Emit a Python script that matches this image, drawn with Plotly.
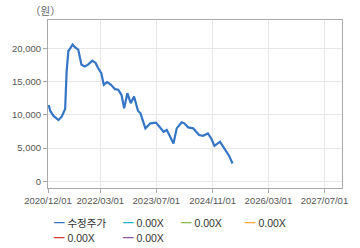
import plotly.graph_objects as go

dates = ["2020-12-07", "2020-12-21", "2021-01-18", "2021-03-02", "2021-03-30", "2021-04-29",
         "2021-05-12", "2021-05-27", "2021-07-03", "2021-07-23", "2021-08-21", "2021-09-18",
         "2021-10-17", "2021-11-14", "2021-12-21", "2022-01-19", "2022-02-08", "2022-02-22",
         "2022-03-09", "2022-03-31", "2022-04-29", "2022-06-02", "2022-07-06", "2022-08-04",
         "2022-09-01", "2022-09-24", "2022-10-22", "2022-11-20", "2022-12-19", "2023-01-22",
         "2023-02-13", "2023-03-28", "2023-05-10", "2023-06-28", "2023-08-04", "2023-09-02",
         "2023-09-30", "2023-10-29", "2023-11-27", "2023-12-25", "2024-02-06", "2024-02-29",
         "2024-04-03", "2024-05-16", "2024-06-13", "2024-07-06", "2024-08-10", "2024-09-21",
         "2024-10-20", "2024-11-17", "2024-12-16", "2025-01-05", "2025-02-02", "2025-03-03",
         "2025-03-25", "2025-04-23"]
prices = [11500, 10600, 9850, 9240, 9740, 10900,
          16560, 19600, 20600, 20200, 19850, 17575,
          17300, 17575, 18180, 17830, 17100, 16800,
          16300, 14540, 14950, 14540, 13890, 13790,
          13030, 11010, 13280, 11770, 12770, 10650,
          10250, 7980, 8740, 8840, 7980, 7470,
          7725, 6710, 5710, 7980, 8890, 8740,
          8130, 7980, 7470, 6970, 6860, 7220,
          6460, 5350, 5710, 5950, 5200, 4440,
          3830, 2680]

x_ticks = ["2020-12-01", "2022-03-01", "2023-07-01", "2024-11-01", "2026-03-01", "2027-07-01"]
y_ticks = [0, 5000, 10000, 15000, 20000]

series_names = ["수정주가", "0.00X", "0.00X", "0.00X", "0.00X", "0.00X"]
series_colors = ["#3575c6", "#22b3c6", "#8dbb4f", "#f0a93a", "#d23a32", "#8d55a3"]

fig = go.Figure()
fig.add_trace(go.Scatter(x=dates, y=prices, mode="lines", name=series_names[0],
                         line=dict(color=series_colors[0], width=2.2), showlegend=False))

axis_common = dict(showline=True, linecolor="#a9a9a9", linewidth=1, mirror=True,
                   showgrid=True, gridcolor="#e8e8e8", gridwidth=1,
                   ticks="outside", ticklen=4, tickcolor="#a9a9a9",
                   tickfont=dict(family="Liberation Sans, Arial, sans-serif", size=9.5, color="#555555"),
                   zeroline=False)

fig.update_xaxes(type="date", range=["2020-12-01", "2027-12-01"], tickvals=x_ticks,
                 tickformat="%Y/%m/%d", **axis_common)
fig.update_yaxes(range=[-1000, 24300], tickvals=y_ticks, tickformat=",d", **axis_common)

# legend (compact, drawn as text entries)
leg_cols = [48, 117.7, 176.7, 241.7]
leg_pos = [(leg_cols[0], 222), (leg_cols[1], 222), (leg_cols[2], 222), (leg_cols[3], 222),
           (leg_cols[0], 237), (leg_cols[1], 237)]
L, R, T, B, W, H = 44, 18, 20, 60, 360, 248
pw, ph = W - L - R, H - T - B
annotations = []
for (px, py), name, col in zip(leg_pos, series_names, series_colors):
    annotations.append(dict(
        xref="paper", yref="paper", x=(px - L) / pw, y=(H - B - py) / ph,
        xanchor="left", yanchor="middle", showarrow=False,
        text=f'<span style="color:{col};font-family:Noto Sans CJK KR">━</span> {name}',
        font=dict(family="Liberation Sans, Noto Sans CJK KR, sans-serif", size=10.5, color="#333333")))
annotations.append(dict(xref="paper", yref="paper", x=(24 - L) / pw, y=(H - B - 11) / ph,
                        xanchor="left", yanchor="middle", showarrow=False, text="（원）",
                        font=dict(family="Noto Sans CJK KR, sans-serif", size=10.5, color="#666666")))

fig.update_layout(width=W, height=H, margin=dict(l=L, r=R, t=T, b=B),
                  paper_bgcolor="white", plot_bgcolor="white",
                  annotations=annotations, showlegend=False)

fig.write_html("out.html", config={"displayModeBar": False})
